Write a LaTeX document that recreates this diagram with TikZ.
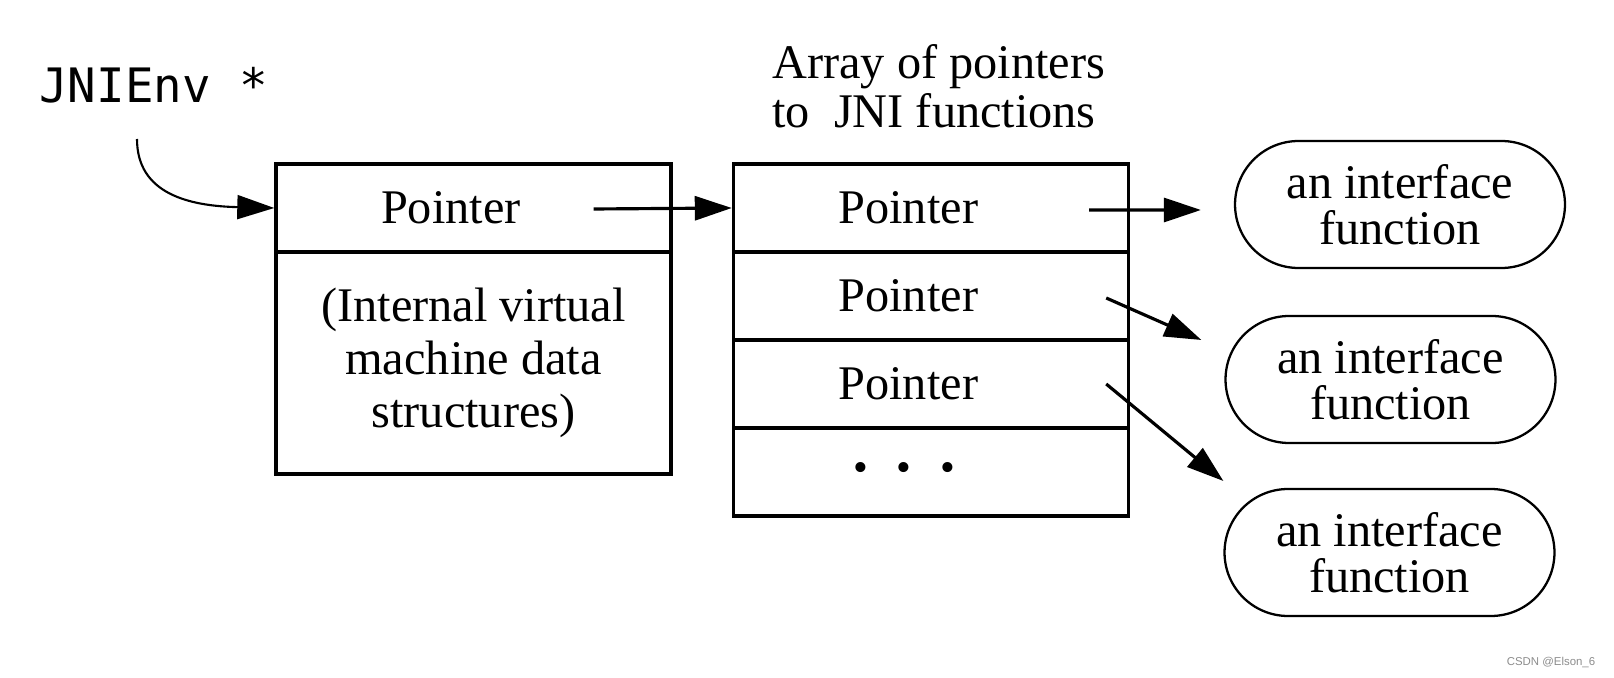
\documentclass[tikz,border=0pt]{standalone}
\usepackage{fontspec}
\setmainfont{Liberation Serif}
\setmonofont{DejaVu Sans Mono}
\newfontfamily\wmfont{Liberation Sans}
\usetikzlibrary{shapes.misc,arrows.meta,calc}

\tikzset{
  cell/.style={draw,line width=2pt,minimum width=7.9cm,minimum height=1.76cm,inner ysep=0pt,
    font=\fontsize{27.5}{29}\selectfont},
  ptrcell/.style={cell,inner xsep=2.1cm,text width=3.7cm,align=left},
  fnbox/.style={rounded rectangle,draw,line width=1.3pt,minimum width=6.6cm,minimum height=2.54cm,
    inner sep=0pt,align=center,font=\fontsize{27.5}{26}\selectfont},
  ptrarrow/.style={line width=1.8pt,-{Triangle[length=7.4mm,width=4.8mm]}},
  envarrow/.style={line width=1.2pt,-{Triangle[length=7.4mm,width=4.8mm]}}
}

\begin{document}
\begin{tikzpicture}[x=0.02cm,y=-0.02cm]
\useasboundingbox (0,0) rectangle (1614,678);

% JNIEnv pointer
\node[anchor=west,inner sep=0pt,font=\ttfamily\fontsize{27}{27}\selectfont] (env) at (39,85) {JNIEnv *};

% per-thread data
\node[ptrcell] (envptr) at (473.5,208) {Pointer};
\node[cell,minimum height=4.44cm,align=center,font=\fontsize{27.5}{30.3}\selectfont] (envdata) at (473.5,363)
  {(Internal virtual\\machine data\\structures)};

% function table
\node[anchor=west,inner sep=0pt,align=left,font=\fontsize{27.5}{28}\selectfont] (hdr) at (772,86)
  {Array of pointers\\to\ \ JNI functions};
\node[ptrcell] (tbl0) at (931,208) {Pointer};
\node[ptrcell] (tbl1) at (931,296) {Pointer};
\node[ptrcell] (tbl2) at (931,384) {Pointer};
\node[ptrcell] (tbl3) at (931,472) {\hspace*{0.3cm}{\fontsize{24}{24}\selectfont\textbullet\hspace{0.57cm}\textbullet\hspace{0.57cm}\textbullet}};

% interface functions
\node[fnbox] (fn1) at (1400,204.5) {an interface\\function};
\node[fnbox] (fn2) at (1390.5,379.5) {an interface\\function};
\node[fnbox] (fn3) at (1389.5,552.5) {an interface\\function};

\coordinate (e0) at (137,139);
\coordinate (a0) at ($(envptr.east)+(-79,1)$);
\coordinate (b0) at ($(tbl0.east)+(-41,2)$);
\coordinate (b1) at ($(tbl1.east)+(-24,2)$);
\coordinate (b2) at ($(tbl2.east)+(-24,0)$);
\coordinate (t0) at ($(fn1.west)+(-33,5.5)$);
\coordinate (t1) at ($(fn2.west)+(-23,-39.5)$);
\coordinate (t2) at ($(fn3.west)+(0,-71.5)$);

% arrows
\draw[envarrow] (e0) .. controls +(0,55) and +(-85,-2) .. (envptr.west);
\draw[ptrarrow] (a0) -- (tbl0.west);
\draw[ptrarrow] (b0) -- (t0);
\draw[ptrarrow] (b1) -- (t1);
\draw[ptrarrow] (b2) -- (t2);

\node[font=\wmfont\fontsize{6.5}{7}\selectfont,text=black!45] (wm) at (1551,662) {CSDN @Elson\_6};
\end{tikzpicture}
\end{document}
